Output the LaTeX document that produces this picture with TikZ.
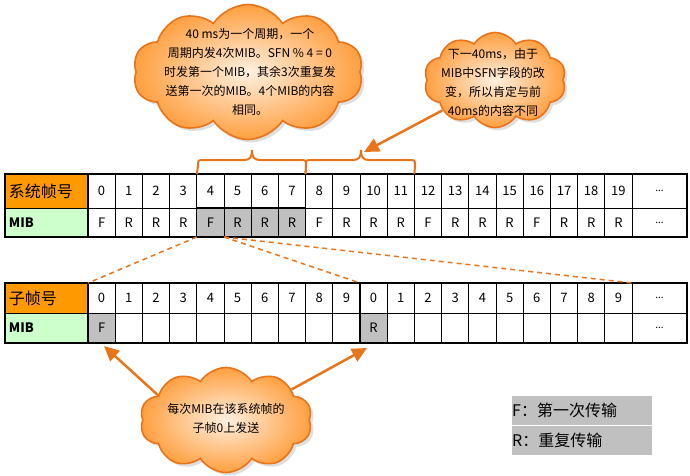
\documentclass[tikz,border=0pt]{standalone}
\usepackage{fontspec}
\setmainfont{Noto Sans CJK SC}
\usetikzlibrary{shapes.symbols,arrows.meta,shadows}

\definecolor{hdrorange}{HTML}{FF9900}
\definecolor{mibgreen}{HTML}{CCFFCC}
\definecolor{cellgray}{HTML}{C0C0C0}
\definecolor{lineorange}{HTML}{E8741C}

\tikzset{
    cell/.style={draw, line width=0.8pt, minimum width=27.2pt, inner sep=0pt, outer sep=0pt, font=\fontsize{13}{13}\selectfont},
    hdrcell/.style={cell, minimum width=83pt, text width=75pt, align=left},
    dotcell/.style={cell, minimum width=55pt, font=\fontsize{10}{10}\selectfont},
    cloudbox/.style={cloud, cloud puffs=10, cloud puff arc=115, draw=lineorange, line width=1.6pt,
        inner color=orange!12, outer color=orange!75, drop shadow={opacity=0.25, shadow xshift=3pt, shadow yshift=-3pt}},
    cloudtext/.style={align=center, font=\fontsize{12}{19}\selectfont},
    bracket/.style={draw=lineorange, line width=2pt},
    bigarrow/.style={draw=lineorange, line width=2.5pt, -{Triangle[length=15pt,width=14pt]}},
    zoomline/.style={draw=lineorange, line width=1.5pt, dashed, dash pattern=on 5pt off 4pt},
    legend/.style={anchor=west, fill=cellgray, minimum height=29pt, inner sep=0pt, text width=140pt, align=left, font=\fontsize{16}{16}\selectfont}
}

\begin{document}
\begin{tikzpicture}[x=1pt, y=-1pt]
        \useasboundingbox (0,0) rectangle (690,475);

        % system frame table
        \node[hdrcell, fill=hdrorange, minimum height=34pt, font=\fontsize{16}{16}\selectfont] (th) at (46.5,191) {系统帧号};
        \node[hdrcell, fill=mibgreen, minimum height=29pt, font=\bfseries\fontsize{13}{13}\selectfont] (tm) at (46.5,222.5) {MIB};
        \foreach \i in {0,...,19} {
            \node[cell, minimum height=34pt] (t\i) at (101.6+27.2*\i,191) {\i};
            \pgfmathtruncatemacro\r{mod(\i,4)}
            \ifnum\r=0 \def\v{F}\else\def\v{R}\fi
            \def\c{white}
            \ifnum\i>3 \ifnum\i<8 \def\c{cellgray}\fi\fi
            \node[cell, fill=\c, minimum height=29pt] (m\i) at (101.6+27.2*\i,222.5) {\v};
        }
        \node[dotcell, minimum height=34pt] (tdots) at (659.5,191) {...};
        \node[dotcell, minimum height=29pt] (mdots) at (659.5,222.5) {...};
        \draw[line width=1.6pt] (th.north west) rectangle (mdots.south east);
        \draw[line width=1.6pt] (t0.north west) -- (m0.south west);
        \draw[line width=1.2pt] (m4.north west) rectangle (m7.south east);

        % subframe table
        \node[hdrcell, fill=hdrorange, minimum height=30pt, font=\fontsize{16}{16}\selectfont] (bh) at (46.5,298) {子帧号};
        \node[hdrcell, fill=mibgreen, minimum height=30pt, font=\bfseries\fontsize{13}{13}\selectfont] (bm) at (46.5,328) {MIB};
        \foreach \i in {0,...,19} {
            \pgfmathtruncatemacro\n{mod(\i,10)}
            \node[cell, minimum height=30pt] (b\i) at (101.6+27.2*\i,298) {\n};
            \def\v{}\def\c{white}
            \ifnum\i=0 \def\v{F}\def\c{cellgray}\fi
            \ifnum\i=10 \def\v{R}\def\c{cellgray}\fi
            \node[cell, fill=\c, minimum height=30pt] (s\i) at (101.6+27.2*\i,328) {\v};
        }
        \node[dotcell, minimum height=30pt] (bdots) at (659.5,298) {...};
        \node[dotcell, minimum height=30pt] (sdots) at (659.5,328) {...};
        \draw[line width=1.6pt] (bh.north west) rectangle (sdots.south east);
        \draw[line width=1.6pt] (b0.north west) -- (s0.south west);
        \draw[line width=1.6pt] (b10.north west) -- (s10.south west);

        % dashed zoom lines
        \draw[zoomline] (m4.south west) -- (b0.north west);
        \draw[zoomline] (m4.south east) -- (b10.north west);
        \draw[zoomline] (m4.south east) -- (b19.north east);

        % braces over the two 40 ms periods
        \draw[bracket] (t4.north west) -- (198,166) .. controls (198,160) .. (204,160) -- (244,160)
            .. controls (250,160) and (252,157) .. (252,150) .. controls (252,157) and (254,160) .. (260,160)
            -- (300,160) .. controls (306,160) .. (306,166) -- (t7.north east);
        \draw[bracket] (t8.north west) -- (306,166) .. controls (306,160) .. (312,160) -- (353,160)
            .. controls (359,160) and (361,157) .. (361,150) .. controls (361,157) and (363,160) .. (369,160)
            -- (409,160) .. controls (415,160) .. (415,166) -- (t11.north east);
        \coordinate (tip2) at (364,152);

        % clouds
        \node[cloudbox, minimum width=230pt, minimum height=135pt] (c1) at (248,72) {};
        \node[cloudtext] (c1text) at (250,72) {40 ms为一个周期，一个\\周期内发4次MIB。SFN \% 4 = 0\\时发第一个MIB，其余3次重复发\\送第一次的MIB。4个MIB的内容\\相同。};
        \node[cloudbox, minimum width=142pt, minimum height=95pt] (c2) at (495,80) {};
        \node[cloudtext] (c2text) at (493,82) {下一40ms，由于\\MIB中SFN字段的改\\变，所以肯定与前\\40ms的内容不同};
        \node[cloudbox, minimum width=172pt, minimum height=105pt] (c3) at (226,420) {};
        \node[cloudtext] (c3text) at (226,418) {每次MIB在该系统帧的\\子帧0上发送};

        % arrows
        \coordinate (ftip) at (104,346);
        \coordinate (rtip) at (367,348);
        \draw[bigarrow] (c2.210) -- (tip2);
        \draw[bigarrow] (c3.160) -- (ftip);
        \draw[bigarrow] (c3.25) -- (rtip);

        % legend
        \node[legend] (lf) at (512,410.5) {F：第一次传输};
        \node[legend] (lr) at (512,440) {R：重复传输};
    \end{tikzpicture}
\end{document}
